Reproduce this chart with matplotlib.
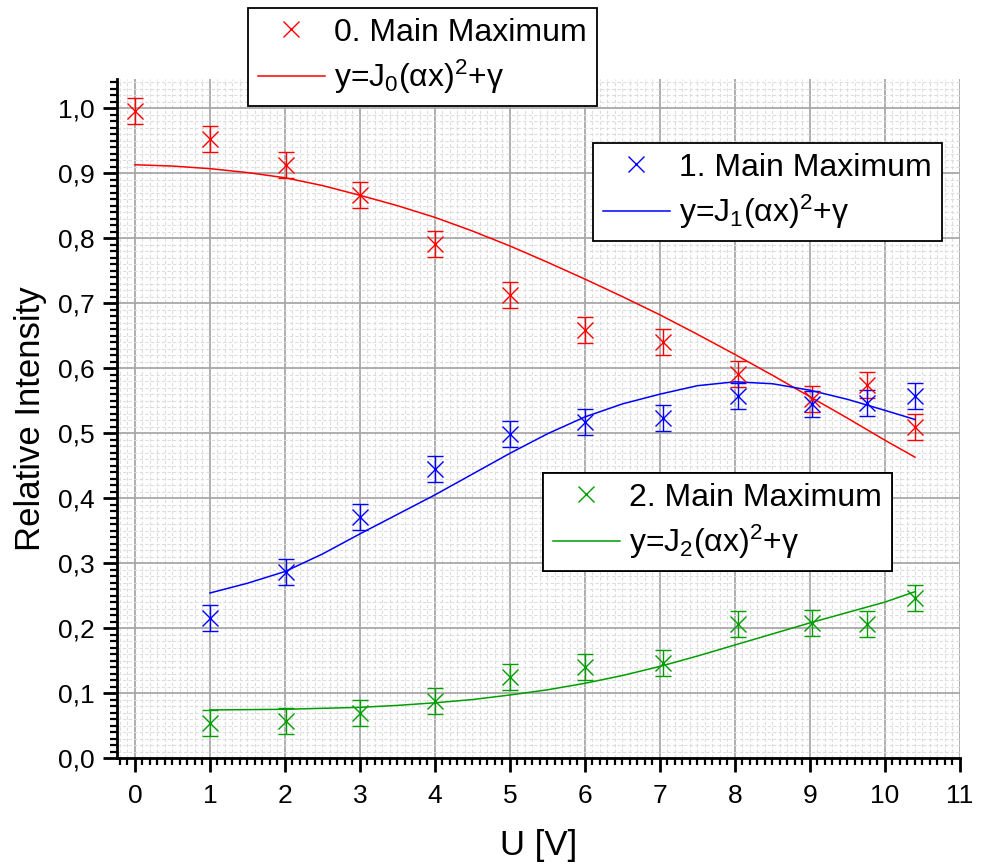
import matplotlib
matplotlib.use("Agg")
import matplotlib.pyplot as plt
from matplotlib.lines import Line2D
from matplotlib.ticker import MultipleLocator, FuncFormatter

plt.rcParams['font.family'] = ['Liberation Sans', 'DejaVu Sans']
plt.rcParams['mathtext.fontset'] = 'custom'
plt.rcParams['mathtext.rm'] = 'Liberation Sans'
plt.rcParams['mathtext.it'] = 'Liberation Sans:italic'

# measured data
u = [0, 1, 2.01, 3, 4, 5, 6, 7.04, 8.04, 9.03, 9.76, 10.4]
u_rest = [1, 2.01, 3, 4, 5, 6, 7.04, 8.04, 9.03, 9.76, 10.4]
i0 = [0.995, 0.952, 0.913, 0.866, 0.791, 0.713, 0.658, 0.640, 0.591, 0.552, 0.574, 0.510]
i1 = [0.215, 0.287, 0.371, 0.445, 0.499, 0.517, 0.523, 0.557, 0.545, 0.547, 0.557]
i2 = [0.054, 0.057, 0.070, 0.088, 0.124, 0.140, 0.146, 0.207, 0.208, 0.206, 0.247]
err0 = [0.02] * len(u)
err12 = [0.02] * len(u_rest)

# fitted curves
fit0_x = [0, 0.5, 1, 1.5, 2, 2.5, 3, 3.5, 4, 4.5, 5, 5.5, 6, 6.5, 7, 7.5, 8, 8.5, 9, 9.5, 10, 10.4]
fit0_y = [0.913, 0.911, 0.907, 0.901, 0.893, 0.881, 0.866, 0.850, 0.832, 0.811, 0.788, 0.763,
          0.737, 0.710, 0.682, 0.652, 0.621, 0.589, 0.556, 0.523, 0.489, 0.463]
fit1_x = [1, 1.5, 2, 2.5, 3, 3.5, 4, 4.5, 5, 5.5, 6, 6.5, 7, 7.5, 8, 8.5, 9, 9.5, 10, 10.4]
fit1_y = [0.254, 0.269, 0.287, 0.314, 0.345, 0.375, 0.405, 0.437, 0.469, 0.499, 0.525, 0.545,
          0.560, 0.573, 0.579, 0.576, 0.566, 0.552, 0.535, 0.521]
fit2_x = [1, 2, 3, 3.5, 4, 4.5, 5, 5.5, 6, 6.5, 7, 7.5, 8, 8.5, 9, 9.5, 10, 10.4]
fit2_y = [0.074, 0.075, 0.078, 0.081, 0.085, 0.090, 0.097, 0.105, 0.115, 0.127, 0.141, 0.157,
          0.174, 0.191, 0.208, 0.224, 0.240, 0.256]

c0, c1, c2 = '#FF0000', '#0000FF', '#009E00'

fig = plt.figure(figsize=(9.83, 8.68), dpi=100)
ax = fig.add_axes([0.119, 0.1267, 0.8576, 0.7823])

ax.set_xlim(-0.24, 11)
ax.set_ylim(0, 1.045)

ax.xaxis.set_major_locator(MultipleLocator(1))
ax.xaxis.set_minor_locator(MultipleLocator(0.1))
ax.yaxis.set_major_locator(MultipleLocator(0.1))
ax.yaxis.set_minor_locator(MultipleLocator(0.01))
ax.yaxis.set_major_formatter(FuncFormatter(lambda v, p: f"{v:.1f}".replace('.', ',')))

ax.grid(which='major', color='#A8A8A8', linewidth=1.3, zorder=0)
ax.grid(which='minor', color='#DDDDDD', linewidth=0.8, linestyle=(0, (3, 2)), zorder=0)
ax.set_axisbelow(True)

for s in ['top', 'right']:
    ax.spines[s].set_visible(False)
for s in ['left', 'bottom']:
    ax.spines[s].set_linewidth(2)

ax.tick_params(which='major', direction='out', length=10, width=2, labelsize=19, pad=6)
ax.tick_params(axis='x', which='major', pad=9)
ax.tick_params(which='minor', direction='out', length=5, width=1.6)

ms = 12
kw = dict(fmt='x', markersize=ms, capsize=5.5, elinewidth=1, capthick=1, markeredgewidth=1, linestyle='none')
ax.errorbar(u, i0, yerr=err0, color=c0, **kw)
ax.errorbar(u_rest, i1, yerr=err12, color=c1, **kw)
ax.errorbar(u_rest, i2, yerr=err12, color=c2, **kw)
ax.plot(fit0_x, fit0_y, color=c0, linewidth=1.1)
ax.plot(fit1_x, fit1_y, color=c1, linewidth=1.1)
ax.plot(fit2_x, fit2_y, color=c2, linewidth=1.1)

ax.set_xlabel('U [V]', fontsize=25, labelpad=15)
ax.set_ylabel('Relative Intensity', fontsize=25, labelpad=8)


def make_legend(color, n, loc_xy):
    h = [Line2D([], [], color=color, marker='x', linestyle='none', markersize=ms, markeredgewidth=1),
         Line2D([], [], color=color, linewidth=1.1)]
    labels = [f'{n}. Main Maximum', f'y=J$_{n}$(αx)$^2$+γ']
    leg = ax.legend(h, labels, loc='upper left', bbox_to_anchor=loc_xy, bbox_transform=fig.transFigure,
                    fontsize=23, frameon=True, fancybox=False, shadow=False, framealpha=1,
                    edgecolor='black', handlelength=2.1, handletextpad=0.3, borderpad=0.3,
                    labelspacing=0.33, borderaxespad=0)
    leg.get_frame().set_linewidth(1.3)
    ax.add_artist(leg)
    return leg


make_legend(c0, 0, (248 / 983, 1 - 8 / 868))
make_legend(c1, 1, (593 / 983, 1 - 143 / 868))
make_legend(c2, 2, (543 / 983, 1 - 473 / 868))

fig.savefig('out.png', dpi=100)
